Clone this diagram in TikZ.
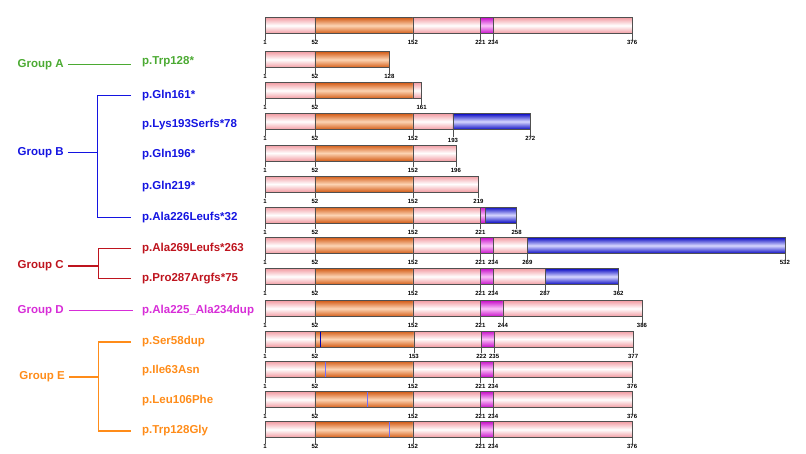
\documentclass[tikz,border=0pt]{standalone}
\usepackage{fontspec}
\setmainfont{Liberation Sans}
\usepackage{tikz}
\usetikzlibrary{positioning}
\definecolor{pinkedge}{RGB}{242,155,162}
\definecolor{orangeedge}{RGB}{212,92,22}
\definecolor{orangemid}{RGB}{252,212,180}
\definecolor{magedge}{RGB}{200,15,200}
\definecolor{magmid}{RGB}{250,195,250}
\definecolor{blueedge}{RGB}{10,10,195}
\definecolor{bluemid}{RGB}{215,215,255}
\definecolor{barline}{RGB}{80,80,80}
\definecolor{grpA}{RGB}{75,170,50}
\definecolor{grpB}{RGB}{20,20,225}
\definecolor{grpC}{RGB}{190,20,30}
\definecolor{grpD}{RGB}{215,45,215}
\definecolor{grpE}{RGB}{255,140,25}
\tikzset{pinkbar/.style={draw=barline,line width=0.6pt,top color=pinkedge,bottom color=pinkedge,middle color=white},
  orangebar/.style={draw=barline,line width=0.6pt,top color=orangeedge,bottom color=orangeedge,middle color=orangemid},
  magbar/.style={draw=barline,line width=0.6pt,top color=magedge,bottom color=magedge,middle color=magmid},
  bluebar/.style={draw=barline,line width=0.6pt,top color=blueedge,bottom color=blueedge,middle color=bluemid}}

\begin{document}
\begin{tikzpicture}[x=1pt,y=-1pt,
  num/.style={below,inner sep=0.6pt,font=\fontsize{6}{6}\selectfont\bfseries},
  tick/.style={draw=barline,line width=0.55pt},
  snvdark/.style={draw=blue!70!black,line width=1.2pt},
  snvlight/.style={draw={rgb,255:red,110;green,110;blue,255},line width=0.8pt},
  mut/.style={anchor=west,inner sep=0pt,text height=8.2pt,text depth=2.4pt,font=\fontsize{11.5}{13}\selectfont\bfseries},
  grp/.style={mut},
  conn/.style={line width=1.4pt}]
  \useasboundingbox (0,0) rectangle (806,453);

  % groups and mutations
  \node[grp,text=grpA] (gA) at (17.5,64.3) {Group A};
  \node[grp,text=grpB] (gB) at (17.5,152.7) {Group B};
  \node[grp,text=grpC] (gC) at (17.5,266) {Group C};
  \node[grp,text=grpD] (gD) at (17.5,310.3) {Group D};
  \node[grp,text=grpE] (gE) at (19.3,377) {Group E};

  \node[mut,text=grpA] (mA1) at (142,61.5) {p.Trp128*};
  \node[mut,text=grpB] (mB1) at (142,95.3) {p.Gln161*};
  \node[mut,text=grpB] (mB2) at (142,124.3) {p.Lys193Serfs*78};
  \node[mut,text=grpB] (mB3) at (142,154.3) {p.Gln196*};
  \node[mut,text=grpB] (mB4) at (142,186.7) {p.Gln219*};
  \node[mut,text=grpB] (mB5) at (142,217.7) {p.Ala226Leufs*32};
  \node[mut,text=grpC] (mC1) at (142,248.3) {p.Ala269Leufs*263};
  \node[mut,text=grpC] (mC2) at (142,278.7) {p.Pro287Argfs*75};
  \node[mut,text=grpD] (mD1) at (142,310.3) {p.Ala225\_Ala234dup};
  \node[mut,text=grpE] (mE1) at (142,342) {p.Ser58dup};
  \node[mut,text=grpE] (mE2) at (142,370.3) {p.Ile63Asn};
  \node[mut,text=grpE] (mE3) at (142,400.3) {p.Leu106Phe};
  \node[mut,text=grpE] (mE4) at (142,431) {p.Trp128Gly};

  \coordinate (eA) at ([xshift=-11pt]mA1.west);
  \coordinate (bB) at (97.5,0);
  \coordinate (bC) at (98.3,0);
  \coordinate (bE) at (98.3,0);
  \draw[conn,grpA] ([xshift=4pt]gA.east) -- (gA.east -| eA);
  \draw[conn,grpB] ([xshift=4pt]gB.east) -- (gB.east -| bB);
  \draw[conn,grpB] ([xshift=-11pt]mB1.west) -- (mB1.west -| bB) -- (mB5.west -| bB) -- ([xshift=-11pt]mB5.west);
  \draw[conn,grpC] ([xshift=4pt]gC.east) -- (gC.east -| bC);
  \draw[conn,grpC] ([xshift=-11pt]mC1.west) -- (mC1.west -| bC) -- (mC2.west -| bC) -- ([xshift=-11pt]mC2.west);
  \draw[conn,grpD] ([xshift=5pt]gD.east) -- ([xshift=-9pt]mD1.west);
  \draw[conn,grpE] ([xshift=4pt]gE.east) -- (gE.east -| bE);
  \draw[conn,grpE] ([xshift=-11pt]mE1.west) -- (mE1.west -| bE) -- (mE4.west -| bE) -- ([xshift=-11pt]mE4.west);

  % protein bars
  \begin{scope}[xshift=264.02pt,x=0.979pt]
  % wild type
  \draw[pinkbar] (1,17.5) rectangle (52,33.5);
  \draw[orangebar] (52,17.5) rectangle (152,33.5);
  \draw[pinkbar] (152,17.5) rectangle (221,33.5);
  \draw[magbar] (221,17.5) rectangle (234,33.5);
  \draw[pinkbar] (234,17.5) rectangle (376,33.5);
  \draw[tick] (1,17.5) -- (1,39.5) node[num] (t0a) {1}
    (52,17.5) -- (52,39.5) node[num] (t0b) {52}
    (152,17.5) -- (152,39.5) node[num] (t0c) {152}
    (221,17.5) -- (221,39.5) node[num] (t0d) {221}
    (234,17.5) -- (234,39.5) node[num] (t0e) {234}
    (376,17.5) -- (376,39.5) node[num] (t0f) {376};

  % p.Trp128*
  \draw[pinkbar] (1,51.5) rectangle (52,67.5);
  \draw[orangebar] (52,51.5) rectangle (128,67.5);
  \draw[tick] (1,51.5) -- (1,73.5) node[num] (t1a) {1}
    (52,51.5) -- (52,73.5) node[num] (t1b) {52}
    (128,51.5) -- (128,73.5) node[num] (t1c) {128};

  % p.Gln161*
  \draw[pinkbar] (1,82.5) rectangle (52,98.5);
  \draw[orangebar] (52,82.5) rectangle (152,98.5);
  \draw[pinkbar] (152,82.5) rectangle (161,98.5);
  \draw[tick] (1,82.5) -- (1,104.5) node[num] (t2a) {1}
    (52,82.5) -- (52,104.5) node[num] (t2b) {52}
    (161,82.5) -- (161,104.5) node[num] (t2c) {161};

  % p.Lys193Serfs*78
  \draw[pinkbar] (1,113.5) rectangle (52,129.5);
  \draw[orangebar] (52,113.5) rectangle (152,129.5);
  \draw[pinkbar] (152,113.5) rectangle (193,129.5);
  \draw[bluebar] (193,113.5) rectangle (272,129.5);
  \draw[tick] (1,113.5) -- (1,135.5) node[num] (t3a) {1}
    (52,113.5) -- (52,135.5) node[num] (t3b) {52}
    (152,113.5) -- (152,135.5) node[num] (t3c) {152}
    (193,113.5) -- (193,137) node[num] (t3d) {193}
    (272,113.5) -- (272,135.5) node[num] (t3e) {272};

  % p.Gln196*
  \draw[pinkbar] (1,145) rectangle (52,161);
  \draw[orangebar] (52,145) rectangle (152,161);
  \draw[pinkbar] (152,145) rectangle (196,161);
  \draw[tick] (1,145) -- (1,167) node[num] (t4a) {1}
    (52,145) -- (52,167) node[num] (t4b) {52}
    (152,145) -- (152,167) node[num] (t4c) {152}
    (196,145) -- (196,167) node[num] (t4d) {196};

  % p.Gln219*
  \draw[pinkbar] (1,176) rectangle (52,192);
  \draw[orangebar] (52,176) rectangle (152,192);
  \draw[pinkbar] (152,176) rectangle (219,192);
  \draw[tick] (1,176) -- (1,198) node[num] (t5a) {1}
    (52,176) -- (52,198) node[num] (t5b) {52}
    (152,176) -- (152,198) node[num] (t5c) {152}
    (219,176) -- (219,198) node[num] (t5d) {219};

  % p.Ala226Leufs*32
  \draw[pinkbar] (1,207) rectangle (52,223);
  \draw[orangebar] (52,207) rectangle (152,223);
  \draw[pinkbar] (152,207) rectangle (221,223);
  \draw[magbar] (221,207) rectangle (226,223);
  \draw[bluebar] (226,207) rectangle (258,223);
  \draw[tick] (1,207) -- (1,229) node[num] (t6a) {1}
    (52,207) -- (52,229) node[num] (t6b) {52}
    (152,207) -- (152,229) node[num] (t6c) {152}
    (221,207) -- (221,229) node[num] (t6d) {221}
    (258,207) -- (258,229) node[num] (t6e) {258};

  % p.Ala269Leufs*263
  \draw[pinkbar] (1,237.5) rectangle (52,253.5);
  \draw[orangebar] (52,237.5) rectangle (152,253.5);
  \draw[pinkbar] (152,237.5) rectangle (221,253.5);
  \draw[magbar] (221,237.5) rectangle (234,253.5);
  \draw[pinkbar] (234,237.5) rectangle (269,253.5);
  \draw[bluebar] (269,237.5) rectangle (532,253.5);
  \draw[tick] (1,237.5) -- (1,259.5) node[num] (t7a) {1}
    (52,237.5) -- (52,259.5) node[num] (t7b) {52}
    (152,237.5) -- (152,259.5) node[num] (t7c) {152}
    (221,237.5) -- (221,259.5) node[num] (t7d) {221}
    (234,237.5) -- (234,259.5) node[num] (t7e) {234}
    (269,237.5) -- (269,259.5) node[num] (t7f) {269}
    (532,237.5) -- (532,259.5) node[num] (t7g) {532};

  % p.Pro287Argfs*75
  \draw[pinkbar] (1,268.5) rectangle (52,284.5);
  \draw[orangebar] (52,268.5) rectangle (152,284.5);
  \draw[pinkbar] (152,268.5) rectangle (221,284.5);
  \draw[magbar] (221,268.5) rectangle (234,284.5);
  \draw[pinkbar] (234,268.5) rectangle (287,284.5);
  \draw[bluebar] (287,268.5) rectangle (362,284.5);
  \draw[tick] (1,268.5) -- (1,290.5) node[num] (t8a) {1}
    (52,268.5) -- (52,290.5) node[num] (t8b) {52}
    (152,268.5) -- (152,290.5) node[num] (t8c) {152}
    (221,268.5) -- (221,290.5) node[num] (t8d) {221}
    (234,268.5) -- (234,290.5) node[num] (t8e) {234}
    (287,268.5) -- (287,290.5) node[num] (t8f) {287}
    (362,268.5) -- (362,290.5) node[num] (t8g) {362};

  % p.Ala225_Ala234dup
  \draw[pinkbar] (1,300.5) rectangle (52,316.5);
  \draw[orangebar] (52,300.5) rectangle (152,316.5);
  \draw[pinkbar] (152,300.5) rectangle (221,316.5);
  \draw[magbar] (221,300.5) rectangle (244,316.5);
  \draw[pinkbar] (244,300.5) rectangle (386,316.5);
  \draw[tick] (1,300.5) -- (1,322.5) node[num] (t9a) {1}
    (52,300.5) -- (52,322.5) node[num] (t9b) {52}
    (152,300.5) -- (152,322.5) node[num] (t9c) {152}
    (221,300.5) -- (221,322.5) node[num] (t9d) {221}
    (244,300.5) -- (244,322.5) node[num] (t9e) {244}
    (386,300.5) -- (386,322.5) node[num] (t9f) {386};

  % p.Ser58dup
  \draw[pinkbar] (1,331) rectangle (52,347);
  \draw[orangebar] (52,331) rectangle (153,347);
  \draw[pinkbar] (153,331) rectangle (222,347);
  \draw[magbar] (222,331) rectangle (235,347);
  \draw[pinkbar] (235,331) rectangle (377,347);
  \draw[snvdark] (58,331.5) -- (58,346.5);
  \draw[tick] (1,331) -- (1,353) node[num] (t10a) {1}
    (52,331) -- (52,353) node[num] (t10b) {52}
    (153,331) -- (153,353) node[num] (t10c) {153}
    (222,331) -- (222,353) node[num] (t10d) {222}
    (235,331) -- (235,353) node[num] (t10e) {235}
    (377,331) -- (377,353) node[num] (t10f) {377};

  % p.Ile63Asn
  \draw[pinkbar] (1,361) rectangle (52,377);
  \draw[orangebar] (52,361) rectangle (152,377);
  \draw[pinkbar] (152,361) rectangle (221,377);
  \draw[magbar] (221,361) rectangle (234,377);
  \draw[pinkbar] (234,361) rectangle (376,377);
  \draw[snvlight] (63,361.5) -- (63,376.5);
  \draw[tick] (1,361) -- (1,383) node[num] (t11a) {1}
    (52,361) -- (52,383) node[num] (t11b) {52}
    (152,361) -- (152,383) node[num] (t11c) {152}
    (221,361) -- (221,383) node[num] (t11d) {221}
    (234,361) -- (234,383) node[num] (t11e) {234}
    (376,361) -- (376,383) node[num] (t11f) {376};

  % p.Leu106Phe
  \draw[pinkbar] (1,391.5) rectangle (52,407.5);
  \draw[orangebar] (52,391.5) rectangle (152,407.5);
  \draw[pinkbar] (152,391.5) rectangle (221,407.5);
  \draw[magbar] (221,391.5) rectangle (234,407.5);
  \draw[pinkbar] (234,391.5) rectangle (376,407.5);
  \draw[snvlight] (106,392) -- (106,407);
  \draw[tick] (1,391.5) -- (1,413.5) node[num] (t12a) {1}
    (52,391.5) -- (52,413.5) node[num] (t12b) {52}
    (152,391.5) -- (152,413.5) node[num] (t12c) {152}
    (221,391.5) -- (221,413.5) node[num] (t12d) {221}
    (234,391.5) -- (234,413.5) node[num] (t12e) {234}
    (376,391.5) -- (376,413.5) node[num] (t12f) {376};

  % p.Trp128Gly
  \draw[pinkbar] (1,421.5) rectangle (52,437.5);
  \draw[orangebar] (52,421.5) rectangle (152,437.5);
  \draw[pinkbar] (152,421.5) rectangle (221,437.5);
  \draw[magbar] (221,421.5) rectangle (234,437.5);
  \draw[pinkbar] (234,421.5) rectangle (376,437.5);
  \draw[snvlight] (128,422) -- (128,437);
  \draw[tick] (1,421.5) -- (1,443.5) node[num] (t13a) {1}
    (52,421.5) -- (52,443.5) node[num] (t13b) {52}
    (152,421.5) -- (152,443.5) node[num] (t13c) {152}
    (221,421.5) -- (221,443.5) node[num] (t13d) {221}
    (234,421.5) -- (234,443.5) node[num] (t13e) {234}
    (376,421.5) -- (376,443.5) node[num] (t13f) {376};
  \end{scope}
\end{tikzpicture}
\end{document}
